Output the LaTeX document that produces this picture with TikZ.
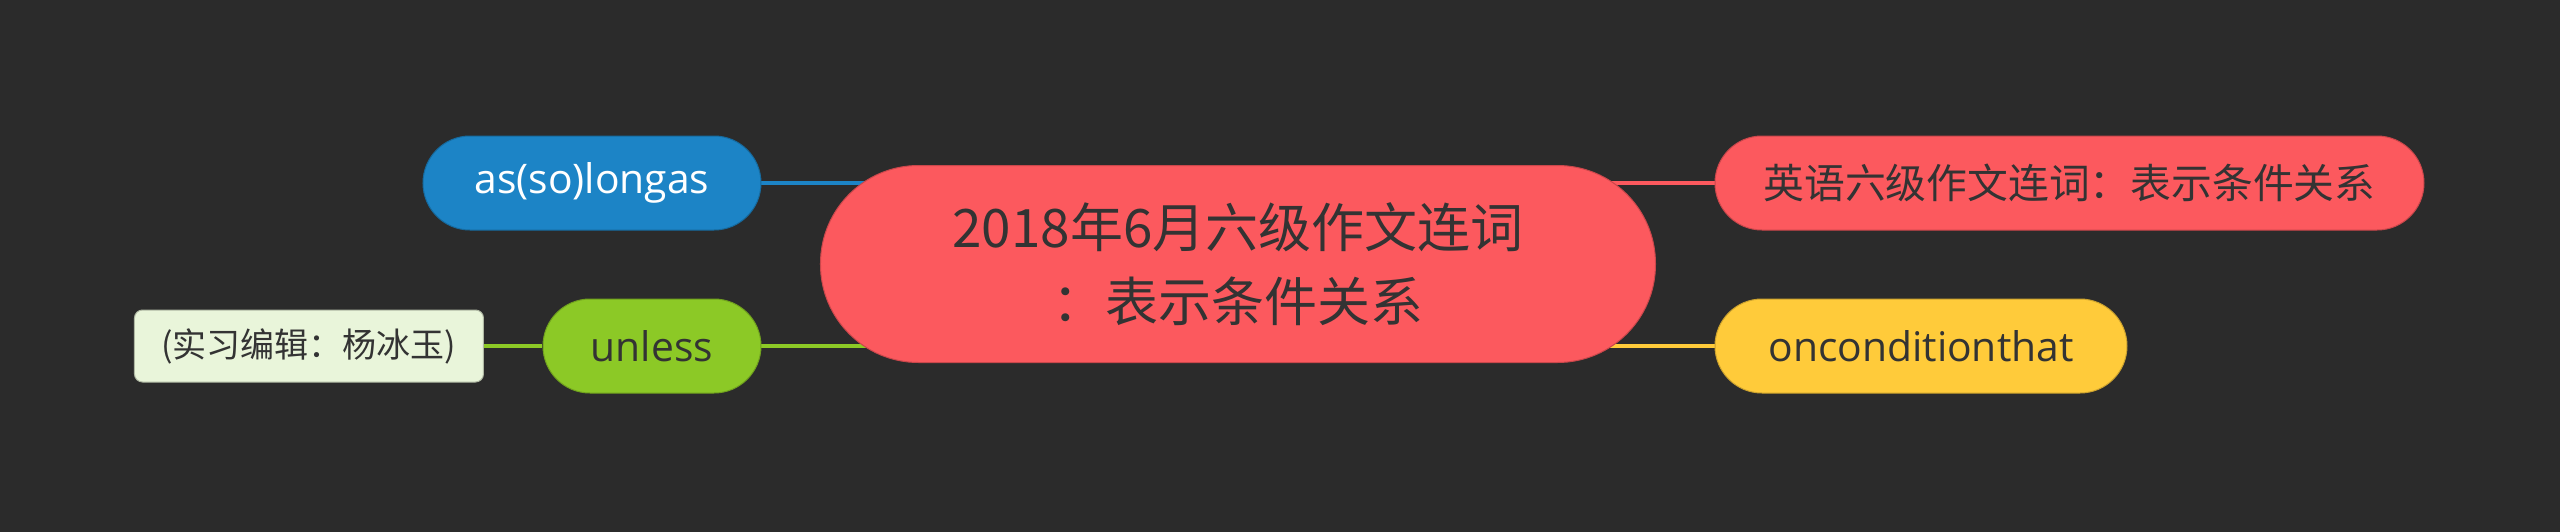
\documentclass[tikz,border=0pt]{standalone}
\usepackage{fontspec}
\setmainfont{Noto Sans CJK SC}
\newfontfamily\LatinFont{Open Sans}
\usepackage{tikz}
\usepackage{xcolor}
\usetikzlibrary{backgrounds}
\usetikzlibrary{positioning}
\definecolor{MapBackground}{HTML}{2B2B2B}
\definecolor{RootRed}{HTML}{FC595E}
\definecolor{BranchBlue}{HTML}{1C84C6}
\definecolor{BranchGreen}{HTML}{8CC926}
\definecolor{BranchYellow}{HTML}{FFCB3A}
\definecolor{NotePale}{HTML}{E9F5DA}
\definecolor{DarkText}{HTML}{333333}
\tikzstyle{RootNode} =[fill=RootRed,draw=RootRed!80!black,line width=0.5pt,rounded corners=49pt,minimum width=417.5pt,minimum height=98.5pt,align=center,text=DarkText,font=\fontsize{26.5}{37}\selectfont]
\tikzstyle{BranchNode} =[rounded corners=23.5pt,minimum height=47pt,line width=0.5pt,inner sep=0pt,font=\fontsize{20.4}{24}\selectfont]
\tikzstyle{NoteNode} =[fill=NotePale,draw=NotePale!75!black,line width=0.5pt,rounded corners=4pt,minimum height=36pt,minimum width=174.5pt,inner sep=0pt,text=DarkText,font=\fontsize{17}{20}\selectfont]
\tikzstyle{BranchLine} =[line width=2pt]

\begin{document}
\begin{tikzpicture}[node distance=29.25pt]
    \useasboundingbox (-619pt,-133.5pt) rectangle (661pt,132pt);
    \node[RootNode](Root){2018年6月六级作文连词\\：表示条件关系};

    \node[BranchNode,fill=BranchBlue,draw=BranchBlue!80!black,text=white,minimum width=169pt,left= of Root.west,yshift=40.5pt](As-So-Long-As){\LatinFont as(so)longas};
    \node[BranchNode,fill=BranchGreen,draw=BranchGreen!80!black,text=DarkText,minimum width=109pt,left= of Root.west,yshift=-41pt](Unless){\LatinFont unless};
    \node[NoteNode,left= of Unless](Editor-Note){(实习编辑：杨冰玉)};

    \node[BranchNode,fill=RootRed,draw=RootRed!80!black,text=DarkText,minimum width=354.5pt,right= of Root.east,yshift=40.5pt](Condition-Title){英语六级作文连词：表示条件关系};
    \node[BranchNode,fill=BranchYellow,draw=BranchYellow!80!black,text=DarkText,minimum width=206pt,right= of Root.east,yshift=-41pt](On-Condition-That){\LatinFont onconditionthat};

    \begin{scope}[on background layer]
        \fill[MapBackground] (-621pt,-135.5pt) rectangle (663pt,134pt);
        \draw[BranchLine,BranchBlue] (As-So-Long-As.east) -- (As-So-Long-As.east -| Root.center);
        \draw[BranchLine,BranchGreen] (Unless.east) -- (Unless.east -| Root.center);
        \draw[BranchLine,BranchGreen] (Editor-Note.east) -- (Unless.west);
        \draw[BranchLine,RootRed] (Condition-Title.west) -- (Condition-Title.west -| Root.center);
        \draw[BranchLine,BranchYellow] (On-Condition-That.west) -- (On-Condition-That.west -| Root.center);
    \end{scope}
\end{tikzpicture}
\end{document}
